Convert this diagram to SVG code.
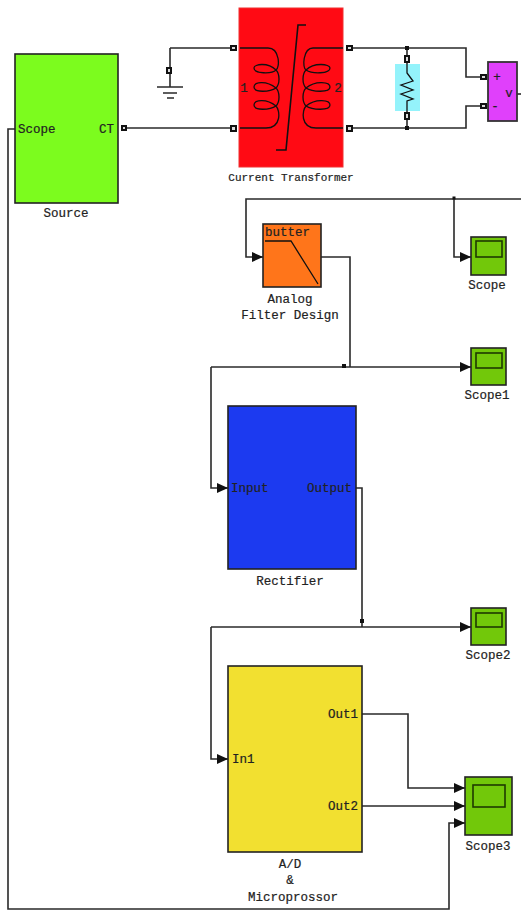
<svg xmlns="http://www.w3.org/2000/svg" width="521" height="911" viewBox="0 0 521 911">
<style>
text{font-family:"Liberation Mono","DejaVu Sans Mono",monospace;font-size:12.5px;fill:#222;stroke:#222;stroke-width:.2;text-anchor:middle}
.b{stroke:#222;stroke-width:1.6}
.w{fill:none;stroke:#2a2a2a;stroke-width:1.6}
.g{fill:none;stroke:#111;stroke-width:1.3}
.p{fill:#ddd;stroke:#111;stroke-width:2}
.s{fill:#72c80a;stroke:#222;stroke-width:1.6}
.sc{fill:#72c80a;stroke:#1f3a00;stroke-width:1.6}
.l{text-anchor:start}
.e{text-anchor:end}
.sm{font-size:11px}
</style>
<defs>
<marker id="a" markerUnits="userSpaceOnUse" markerWidth="12" markerHeight="10" refX="11" refY="5" orient="auto"><path d="M0 0L11 5L0 10Z" fill="#111"/></marker>
</defs>
<rect width="521" height="911" fill="#fff"/>
<g id="connectors">
<path class="w" d="M170 48H233M170 48V70M170 74V87"/>
<path class="w" d="M123 128H233"/>
<path class="w" d="M349 48H466V77H483"/>
<path class="w" d="M349 128H466V106H483"/>
<path class="w" d="M407 48V56M407 62V64M407 111V115M407 120V128"/>
<path class="w" d="M517 94H521"/>
<path class="w" marker-end="url(#a)" d="M521 199H246V257H263"/>
<path class="w" marker-end="url(#a)" d="M454 199V257H471"/>
<path class="w" d="M321 257H350V367"/>
<path class="w" marker-end="url(#a)" d="M211 367H471"/>
<path class="w" marker-end="url(#a)" d="M211 367V488H228"/>
<path class="w" d="M356 488H362V627"/>
<path class="w" marker-end="url(#a)" d="M211 627H471"/>
<path class="w" marker-end="url(#a)" d="M211 627V759H228"/>
<path class="w" marker-end="url(#a)" d="M362 714H408V788H465"/>
<path class="w" marker-end="url(#a)" d="M362 806H465"/>
<path class="w" marker-end="url(#a)" d="M15 129H8V909H449V823H465"/>
<g fill="#111"><rect x="405" y="46" width="4" height="4"/><rect x="405" y="126" width="4" height="4"/><rect x="452.500" y="196.500" width="3" height="3"/><rect x="342" y="364" width="4" height="4"/><rect x="360" y="619" width="4" height="4"/></g>
</g>
<g id="source">
<rect x="15" y="54" width="103" height="149" fill="#7cfc1e" class="b"/>
<text class="l" x="18" y="133">Scope</text><text class="e" x="114" y="133">CT</text>
<rect class="p" x="122" y="126" width="4" height="4"/>
<text x="66" y="217">Source</text>
</g>
<g id="ground">
<rect class="p" x="167" y="68" width="4" height="5"/>
<path class="w" d="M157 87H183M163 93H177M167 98H174"/>
</g>
<g id="current-transformer">
<rect x="239" y="8" width="104" height="159" fill="#ff0a14" stroke="#f03030"/>
<g class="g">
<path d="M240 48H268C280 48 280 68 276 70C268 62 254 64 254 68C254 74 272 74 276 70C280 74 280 84 276 88C266 80 254 82 254 87C254 93 270 92 276 88C280 92 280 102 276 106C266 98 254 100 254 105C254 111 270 110 276 106C280 110 282 128 266 128H240"/>
<path d="M343 48H313C303 48 302 68 306 70C314 62 330 64 330 68C330 74 312 74 306 70C302 74 302 84 306 88C316 80 330 82 330 87C330 93 312 92 306 88C302 92 302 102 306 106C316 98 330 100 330 105C330 111 312 110 306 106C302 110 300 128 316 128H343"/>
<path d="M276 150H286L298 25H306" stroke-width="1.6"/>
</g>
<text x="244" y="92">1</text><text x="338" y="92">2</text>
<rect class="p" x="231" y="46" width="5" height="4"/><rect class="p" x="231" y="126" width="5" height="5"/>
<rect class="p" x="347" y="46" width="5" height="4"/><rect class="p" x="347" y="126" width="5" height="5"/>
<text class="sm" x="291" y="181">Current Transformer</text>
</g>
<g id="resistor">
<rect x="395" y="64" width="25" height="47" fill="#94f3fb"/>
<path class="g" d="M407 64V73L413 81L401 85L413 90L401 94L413 99L407 101V111"/>
<rect class="p" x="405" y="56" width="4" height="6"/><rect class="p" x="405" y="113" width="4" height="6"/>
</g>
<g id="voltmeter">
<rect x="488" y="62" width="29" height="59" fill="#e040fb" stroke="#333" stroke-width="1.8"/>
<text x="497" y="81">+</text><text x="495" y="110">-</text><text x="509" y="97">v</text>
<rect class="p" x="481" y="75" width="5" height="4"/><rect class="p" x="481" y="104" width="5" height="4"/>
</g>
<g id="analog-filter">
<rect x="263" y="224" width="58" height="63" fill="#ff751a" class="b"/>
<text class="l" x="265" y="236">butter</text>
<path class="g" d="M265 241H291L318 284"/>
<text x="290" y="303">Analog</text><text x="290" y="319">Filter Design</text>
</g>
<g id="scope">
<rect class="s" x="471" y="237" width="35" height="38"/><rect class="sc" x="476" y="241" width="26" height="16"/>
<text x="487" y="289">Scope</text>
</g>
<g id="scope1">
<rect class="s" x="471" y="348" width="35" height="37"/><rect class="sc" x="476" y="353" width="26" height="15"/>
<text x="487" y="399">Scope1</text>
</g>
<g id="rectifier">
<rect x="228" y="406" width="128" height="163" fill="#1c3af0" class="b"/>
<text class="l" x="231" y="492">Input</text><text class="e" x="352" y="492">Output</text>
<text x="290" y="585">Rectifier</text>
</g>
<g id="scope2">
<rect class="s" x="471" y="608" width="35" height="37"/><rect class="sc" x="476" y="613" width="26" height="14"/>
<text x="488" y="659">Scope2</text>
</g>
<g id="microprocessor">
<rect x="228" y="666" width="134" height="186" fill="#f2e030" class="b"/>
<text class="l" x="232" y="763">In1</text><text class="e" x="358" y="718">Out1</text><text class="e" x="358" y="810">Out2</text>
<text x="290" y="868">A/D</text><text x="290" y="884">&amp;</text><text x="293" y="901">Microprossor</text>
</g>
<g id="scope3">
<rect class="s" x="465" y="777" width="47" height="58"/><rect class="sc" x="473" y="785" width="32" height="22"/>
<text x="488" y="850">Scope3</text>
</g>
</svg>
